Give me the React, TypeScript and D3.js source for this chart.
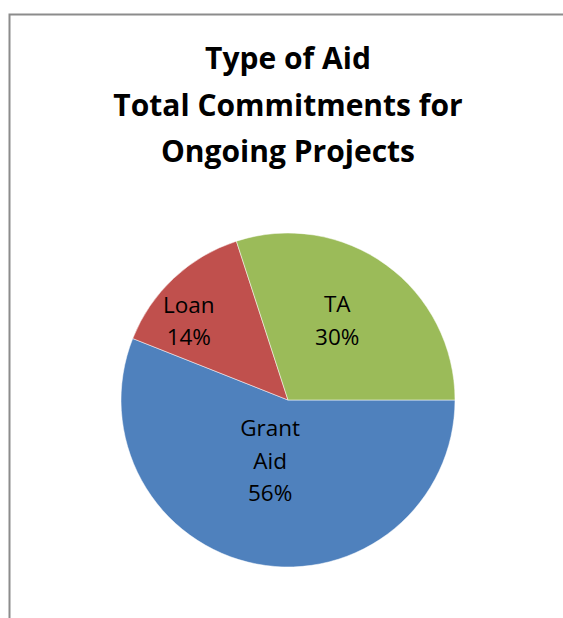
import React from 'react';
import * as d3 from 'd3';

const categories = ['Grant Aid', 'Loan', 'TA'];
const shares = [56, 14, 30];
const labelLines = [['Grant', 'Aid', '56%'], ['Loan', '14%'], ['TA', '30%']];
const titleLines = ['Type of Aid', 'Total Commitments for', 'Ongoing Projects'];

const colors = ['#4F81BD', '#C0504D', '#9BBB59'];

export default function App() {
  const width = 563;
  const height = 618;
  const cx = 288;
  const cy = 400;
  const radius = 167;

  // Excel style: first slice starts at 3 o'clock, clockwise
  const pie = d3.pie<number>()
    .sort(null)
    .value(d => d)
    .startAngle(Math.PI / 2)
    .endAngle(Math.PI / 2 + 2 * Math.PI);
  const arcs = pie(shares);
  const arc = d3.arc<d3.PieArcDatum<number>>().innerRadius(0).outerRadius(radius);

  // best-fit label placement: distance (fraction of radius) and angle nudge (deg)
  const labelDist = [0.38, 0.76, 0.56];
  const labelNudge = [5.6, -8.2, -4.2];
  const font = '"Open Sans", "Liberation Sans", sans-serif';

  return (
    <div style={{ position: 'fixed', left: 0, top: 0 }}>
      <svg width={width} height={height} style={{ display: 'block' }}>
        <rect x={0} y={0} width={width} height={height} fill="#fff" />
        <path d={`M9.5,${height} V14.5 H${width}`} fill="none" stroke="#8c8c8c" strokeWidth={2} />
        <g fontFamily={font} fontWeight="bold" fontSize={30} textAnchor="middle" fill="#000">
          {titleLines.map((t, i) => (
            <text key={t} x={cx} y={69 + i * 46.5} textLength={undefined}>{t}</text>
          ))}
        </g>
        <g transform={`translate(${cx},${cy})`}>
          {arcs.map((a, i) => (
            <path key={categories[i]} d={arc(a) || ''} fill={colors[i]} stroke="#fff" strokeWidth={0.5} />
          ))}
          {arcs.map((a, i) => {
            const mid = (a.startAngle + a.endAngle) / 2 + (labelNudge[i] * Math.PI) / 180;
            const [lx, ly] = d3.pointRadial(mid, radius * labelDist[i]);
            const lines = labelLines[i];
            const lh = 32.5;
            const y0 = ly - ((lines.length - 1) * lh) / 2;
            return (
              <text key={categories[i]} x={lx} fontFamily={font} fontSize={22.5} textAnchor="middle" fill="#000">
                {lines.map((l, j) => (
                  <tspan key={j} x={lx} y={y0 + j * lh} dy="0.36em">{l}</tspan>
                ))}
              </text>
            );
          })}
        </g>
      </svg>
    </div>
  );
}
